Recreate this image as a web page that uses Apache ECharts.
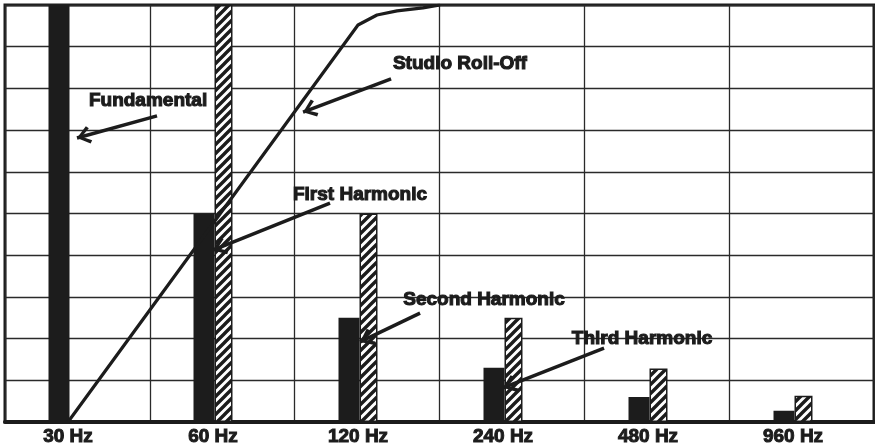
<!DOCTYPE html>
<html>
<head>
<meta charset="utf-8">
<script src="https://cdn.jsdelivr.net/npm/echarts@6/dist/echarts.min.js"></script>
<style>
  html, body { margin: 0; padding: 0; background: #fff; }
  #chart { width: 875px; height: 445px; }
</style>
</head>
<body>
<div id="chart"></div>
<script>
// categories and bar values
const categories = ['30 Hz', '60 Hz', '120 Hz', '240 Hz', '480 Hz', '960 Hz'];
const harmonicLevels = [10, 5, 2.5, 1.3, 0.6, 0.27];
const rolledLevels = ['-', 10, 5, 2.5, 1.28, 0.63];

// studio roll-off curve, x in category index units
const rollOffX = [0, 2.0, 2.131, 2.269, 2.448, 2.566];
const rollOffY = [0, 9.52, 9.76, 9.86, 9.93, 10];

// annotations: text position and arrow (from -> to)
const noteNames = ['Fundamental', 'Studio Roll-Off', 'First Harmonic', 'Second Harmonic', 'Third Harmonic'];
const noteTextX = [0.552, 2.703, 2.014, 2.869, 3.959];
const noteTextY = [7.70, 8.59, 5.44, 2.93, 1.99];
const arrowFromX = [0.614, 2.228, 1.807, 2.428, 3.697];
const arrowFromY = [7.34, 8.23, 5.25, 2.61, 1.77];
const arrowToX = [0.062, 1.621, 1.0, 2.014, 3.0];
const arrowToY = [6.81, 7.43, 4.12, 1.92, 0.82];

const ink = '#1c1c1c';
const font = 'Liberation Sans, Arial, sans-serif';

// diagonal hatch fill
const makeHatch = () => {
  const s = 9;
  const c = document.createElement('canvas');
  c.width = s;
  c.height = s;
  const ctx = c.getContext('2d');
  ctx.fillStyle = '#fff';
  ctx.fillRect(0, 0, s, s);
  ctx.strokeStyle = ink;
  ctx.lineWidth = 3.4;
  ctx.beginPath();
  ctx.moveTo(-2, s + 2); ctx.lineTo(s + 2, -2);
  ctx.moveTo(-s / 2, s / 2); ctx.lineTo(s / 2, -s / 2);
  ctx.moveTo(s / 2, s * 1.5); ctx.lineTo(s * 1.5, s / 2);
  ctx.stroke();
  return c;
};

const chevron = 'path://M5,0 L10,8 L8.5,9.6 L5,3.4 L1.5,9.6 L0,8 Z';

const chart = echarts.init(document.getElementById('chart'), null, { renderer: 'canvas' });

const option = {
  animation: false,
  grid: [
    {
      left: 5, top: 5, width: 869, height: 417, outerBoundsMode: 'none',
      show: true, borderColor: ink, borderWidth: 3, z: 0
    },
    { left: -4.5, top: 5, width: 870, height: 417, outerBoundsMode: 'none' }
  ],
  xAxis: [
    {
      gridIndex: 0, type: 'value', min: 0, max: 6, interval: 1,
      axisLabel: { show: false }, axisTick: { show: false },
      axisLine: { show: true, lineStyle: { color: ink, width: 4 } },
      splitLine: { show: true, lineStyle: { color: '#2a2a2a', width: 1.3 } }
    },
    {
      gridIndex: 1, type: 'category', data: categories,
      axisLine: { show: false }, axisTick: { show: false },
      splitLine: { show: false },
      axisLabel: {
        margin: 5, color: ink, fontFamily: font, fontWeight: 'bold', fontSize: 19,
        textBorderColor: ink, textBorderWidth: 1,
        align: 'center', hideOverlap: false
      }
    },
    {
      gridIndex: 1, type: 'value', min: -0.5, max: 5.5, show: false
    }
  ],
  yAxis: [
    {
      gridIndex: 0, type: 'value', min: 0, max: 10, interval: 1,
      axisLabel: { show: false }, axisTick: { show: false }, axisLine: { show: false },
      splitLine: { show: true, lineStyle: { color: '#2a2a2a', width: 1.3 } }
    },
    { gridIndex: 1, type: 'value', min: 0, max: 10, show: false }
  ],
  series: [
    {
      name: 'Harmonic',
      type: 'bar',
      xAxisIndex: 1,
      yAxisIndex: 1,
      barWidth: 21,
      barGap: 0,
      itemStyle: { color: ink },
      data: harmonicLevels,
      z: 3
    },
    {
      name: 'Rolled',
      type: 'bar',
      xAxisIndex: 1,
      yAxisIndex: 1,
      barWidth: 18,
      barGap: 0,
      itemStyle: { color: { image: makeHatch(), repeat: 'repeat' }, borderColor: ink, borderWidth: 1.5 },
      data: rolledLevels,
      z: 3
    },
    {
      name: 'Studio Roll-Off',
      type: 'line',
      xAxisIndex: 2,
      yAxisIndex: 1,
      symbol: 'none',
      lineStyle: { color: ink, width: 3.2 },
      data: rollOffX.map((x, i) => [x, rollOffY[i]]),
      z: 4
    },
    {
      name: 'Notes',
      type: 'scatter',
      xAxisIndex: 2,
      yAxisIndex: 1,
      symbolSize: 0,
      silent: true,
      itemStyle: { opacity: 1 },
      label: {
        show: true,
        position: 'inside',
        formatter: (p) => noteNames[p.dataIndex],
        color: ink, fontFamily: font, fontWeight: 'bold', fontSize: 19,
        textBorderColor: ink, textBorderWidth: 1.1
      },
      data: noteTextX.map((x, i) => [x, noteTextY[i]]),
      markLine: {
        silent: true,
        symbol: ['none', chevron],
        symbolSize: [18, 14],
        symbolOffset: [[0, 0], [0, 7]],
        label: { show: false },
        lineStyle: { color: ink, width: 3.5, type: 'solid', opacity: 1 },
        data: arrowFromX.map((x, i) => [
          { coord: [x, arrowFromY[i]] },
          { coord: [arrowToX[i], arrowToY[i]] }
        ])
      },
      z: 5
    }
  ]
};

chart.setOption(option);
</script>
</body>
</html>
